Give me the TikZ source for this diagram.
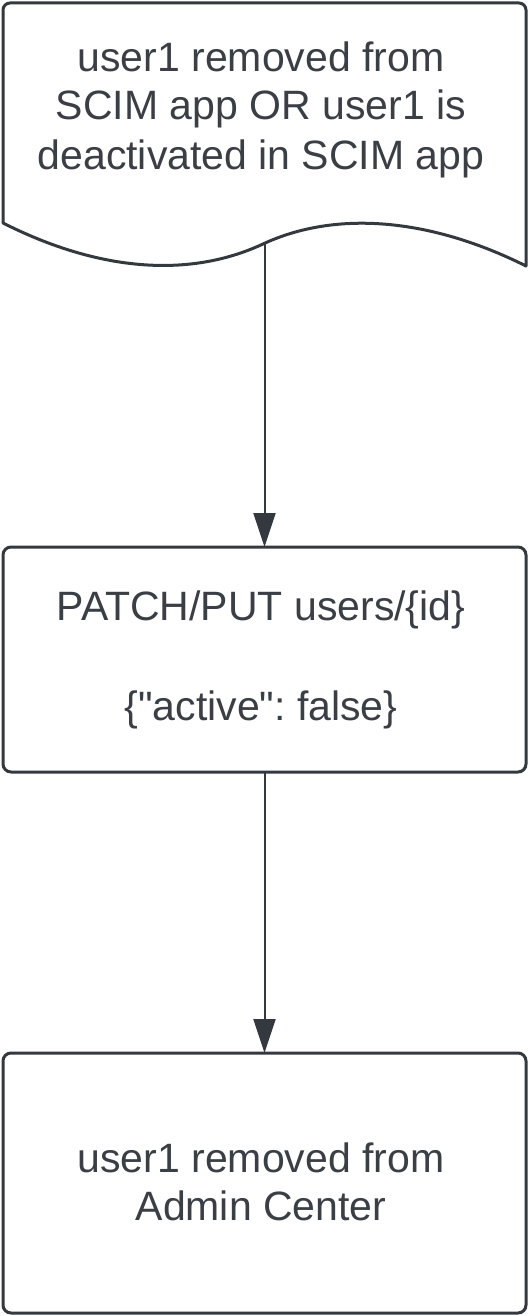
\documentclass[tikz,border=0pt]{standalone}
\usepackage{fontspec}
\setmainfont{Liberation Sans}[Ligatures=TeXOff]
\usetikzlibrary{arrows.meta}
\definecolor{edge}{RGB}{52,56,63}
\definecolor{ink}{RGB}{58,62,69}
\frenchspacing
\tikzset{
  box/.style={draw=edge, line width=3pt, rounded corners=8pt, fill=white,
    minimum width=523pt, inner sep=0pt, outer sep=0pt},
  txt/.style={anchor=base, inner sep=0pt, text=ink, font=\fontsize{41}{49}\selectfont},
  flow/.style={draw=edge, line width=2pt, -{Triangle[length=34pt,width=22pt]}}
}
\begin{document}
\begin{tikzpicture}[x=1pt,y=-1pt]
\useasboundingbox (0,0) rectangle (529,1316);
% document shape
\draw[edge, line width=3pt, fill=white, line join=round]
  (3,223) [rounded corners=7pt] -- (3,3) -- (526,3) [sharp corners] -- (526,266)
  .. controls (430,218) and (336,210) .. (263,244)
  .. controls (190,278) and (100,272) .. (3,223) -- cycle;
\node[inner sep=0pt, outer sep=0pt, minimum width=523pt, minimum height=241pt] (n1) at (264.5,123.5) {};
\node[txt] (t1a) at (261,72) {user1 removed from};
\node[txt] (t1b) at (261,120) {SCIM app OR user1 is};
\node[txt] (t1c) at (261,170) {deactivated in SCIM app};
% box 2
\node[box, minimum height=225pt] (n2) at (264.5,659.5) {};
\node[txt] (t2a) at (261,620) {PATCH/PUT users/\{id\}};
\node[txt] (t2b) at (261,720) {\{"active": false\}};
% box 3
\node[box, minimum height=260pt] (n3) at (264.5,1183) {};
\node[txt] (t3a) at (261,1172) {user1 removed from};
\node[txt] (t3b) at (261,1220) {Admin Center};
% connectors
\draw[flow] (n1.south) -- (n2.north);
\draw[flow] (n2.south) -- (n3.north);
\end{tikzpicture}
\end{document}
